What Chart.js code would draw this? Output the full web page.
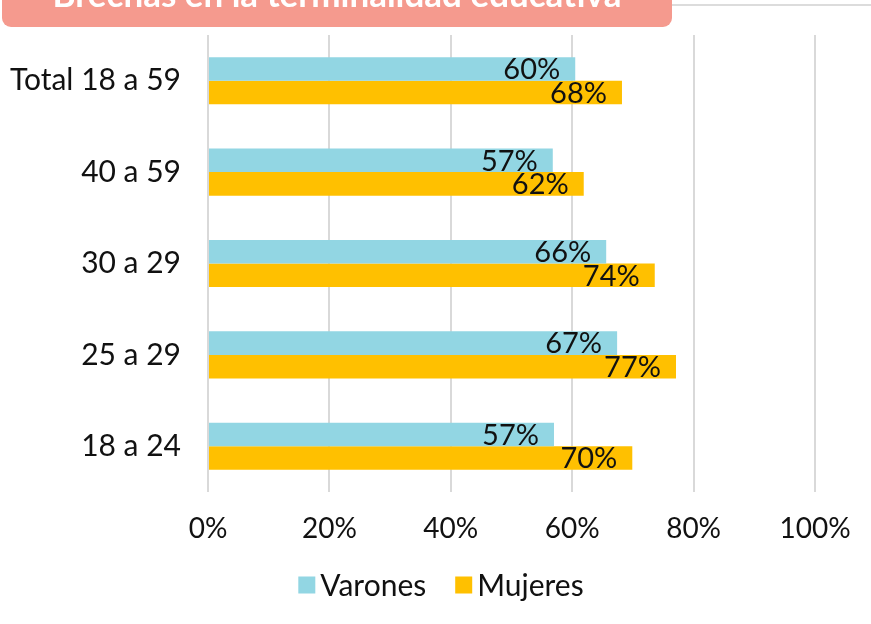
<!DOCTYPE html>
<html>
<head>
<meta charset="utf-8">
<script src="https://cdn.jsdelivr.net/npm/chart.js@4"></script>
<style>
  html,body{margin:0;padding:0;background:#ffffff;}
  #wrap{width:871px;height:624px;position:relative;}
</style>
</head>
<body>
<div id="wrap"><canvas id="c" width="871" height="624"></canvas></div>
<script>
const categories = ["Total 18 a 59", "40 a 59", "30 a 29", "25 a 29", "18 a 24"];
const varones = [60.5, 56.8, 65.6, 67.4, 57.0];
const mujeres = [68.2, 61.9, 73.6, 77.1, 69.9];
const varonesLabels = ["60%", "57%", "66%", "67%", "57%"];
const mujeresLabels = ["68%", "62%", "74%", "77%", "70%"];
const xTicks = [0, 20, 40, 60, 80, 100];
const seriesNames = ["Varones", "Mujeres"];
const seriesColors = ["#92D6E3", "#FFC000"];
const titleText = "Brechas en la terminalidad educativa";

const FONT = "Lato, 'Open Sans', sans-serif";

const titlePlugin = {
  id: 'titleBox',
  beforeDraw(chart) {
    const ctx = chart.ctx;
    ctx.save();
    ctx.strokeStyle = '#dcdcdc';
    ctx.lineWidth = 2;
    ctx.beginPath();
    ctx.moveTo(660, 5);
    ctx.lineTo(871, 5);
    ctx.stroke();
    ctx.fillStyle = '#F59A8E';
    ctx.beginPath();
    ctx.roundRect(2, -30, 670, 57, 9);
    ctx.fill();
    let size = 28;
    ctx.font = 'bold ' + size + 'px ' + FONT;
    const w = ctx.measureText(titleText).width;
    size = size * 569 / w;
    ctx.font = 'bold ' + size + 'px ' + FONT;
    ctx.fillStyle = '#ffffff';
    ctx.textAlign = 'center';
    ctx.textBaseline = 'alphabetic';
    ctx.fillText(titleText, 337, 7);
    ctx.restore();
  }
};

const labelPlugin = {
  id: 'barLabels',
  afterDatasetsDraw(chart) {
    const ctx = chart.ctx;
    ctx.save();
    ctx.font = '29px ' + FONT;
    ctx.fillStyle = '#111111';
    ctx.textAlign = 'right';
    ctx.textBaseline = 'middle';
    const sets = [varonesLabels, mujeresLabels];
    chart.data.datasets.forEach((ds, di) => {
      const meta = chart.getDatasetMeta(di);
      meta.data.forEach((bar, i) => {
        ctx.fillText(sets[di][i], bar.x - 15, bar.y + 1);
      });
    });
    ctx.restore();
  }
};

const legendPlugin = {
  id: 'customLegend',
  afterDraw(chart) {
    const ctx = chart.ctx;
    ctx.save();
    ctx.font = '30px ' + FONT;
    ctx.textBaseline = 'middle';
    ctx.textAlign = 'left';
    const box = 17, gap = 5, itemGap = 29;
    const widths = seriesNames.map(n => box + gap + ctx.measureText(n).width);
    const total = widths.reduce((a, b) => a + b, 0) + itemGap * (seriesNames.length - 1);
    let x = 441 - total / 2;
    const cy = 585;
    seriesNames.forEach((n, i) => {
      ctx.fillStyle = seriesColors[i];
      ctx.fillRect(x, cy - box / 2, box, box);
      ctx.fillStyle = '#111111';
      ctx.fillText(n, x + box + gap, cy + 1);
      x += widths[i] + itemGap;
    });
    ctx.restore();
  }
};

new Chart(document.getElementById('c'), {
  type: 'bar',
  data: {
    labels: categories,
    datasets: [
      { label: seriesNames[0], data: varones, backgroundColor: seriesColors[0], barPercentage: 1, categoryPercentage: 0.515 },
      { label: seriesNames[1], data: mujeres, backgroundColor: seriesColors[1], barPercentage: 1, categoryPercentage: 0.515 }
    ]
  },
  options: {
    indexAxis: 'y',
    responsive: false,
    animation: false,
    layout: { padding: { top: 35, right: 56, left: 0, bottom: 81 } },
    scales: {
      x: {
        min: 0, max: 100,
        afterBuildTicks(s) { s.ticks = xTicks.map(v => ({ value: v })); },
        afterFit(s) { s.height = 51; s.paddingLeft = 0; s.paddingRight = 0; },
        ticks: { callback: v => v + '%', color: '#111111', font: { family: FONT, size: 28 }, padding: 20, maxRotation: 0 },
        grid: { color: '#d9d9d9', lineWidth: 2, drawTicks: false },
        border: { display: false }
      },
      y: {
        afterFit(s) { s.width = 208; s.paddingTop = 0; s.paddingBottom = 0; },
        ticks: { color: '#111111', font: { family: FONT, size: 30 }, padding: 27 },
        grid: { display: false, drawTicks: false },
        border: { display: false }
      }
    },
    plugins: {
      legend: { display: false },
      tooltip: { enabled: false }
    }
  },
  plugins: [titlePlugin, labelPlugin, legendPlugin]
});
</script>
</body>
</html>
